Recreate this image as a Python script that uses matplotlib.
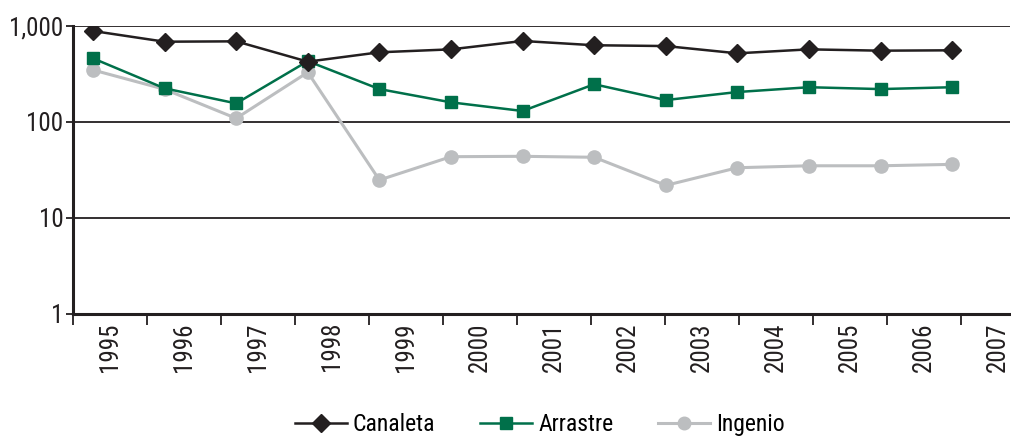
import matplotlib
matplotlib.use("Agg")
import matplotlib.pyplot as plt
from matplotlib import font_manager
from matplotlib.ticker import FixedLocator, FuncFormatter, NullLocator

years = ['1995', '1996', '1997', '1998', '1999', '2000', '2001',
         '2002', '2003', '2004', '2005', '2006', '2007']
canaleta = [887, 686, 692, 425, 532, 571, 698, 630, 618, 519, 571, 553, 558]
arrastre = [460, 224, 156, 430, 220, 160, 130, 247, 169, 205, 230, 220, 230]
ingenio = [348, 219, 109, 329, 24.8, 43.4, 43.8, 42.8, 21.8, 33.3, 34.9, 34.9, 36.1]

# choose a condensed font if one is installed
entries = font_manager.fontManager.ttflist
names = {f.name for f in entries}
cond = [f for f in entries if f.stretch in ('condensed', 'semi-condensed', 'extra-condensed')
        or (isinstance(f.stretch, int) and f.stretch < 500) or 'Narrow' in f.name
        or 'Condensed' in f.name]
FAMILY = None
STRETCH = 'normal'
FS = 18
for cand in ['Liberation Sans Narrow', 'Roboto Condensed', 'Open Sans Condensed',
             'Noto Sans Condensed', 'DejaVu Sans Condensed', 'Arial Narrow']:
    if cand in names:
        FAMILY = cand
        break
if FAMILY is None and cond:
    c = cond[0]
    FAMILY = c.name
    STRETCH = 'condensed'
if FAMILY is None:
    FAMILY = 'Roboto'
    FS = 15.5
plt.rcParams['font.family'] = [FAMILY, 'DejaVu Sans']
plt.rcParams['font.stretch'] = STRETCH

BLACK = '#231f20'
GREEN = '#00704a'
GRAY = '#bcbec0'

fig = plt.figure(figsize=(10.11, 4.37), dpi=100)
ax = fig.add_axes([0.0722, 0.282, 0.927, 0.6585])

x = list(range(len(years)))
ax.plot(x, ingenio, color=GRAY, lw=2.2, marker='o', ms=9.5, label='Ingenio', zorder=3)
ax.plot(x, arrastre, color=GREEN, lw=1.8, marker='s', ms=9, label='Arrastre', zorder=4)
ax.plot(x, canaleta, color=BLACK, lw=1.8, marker='D', ms=9.5, label='Canaleta', zorder=5)

ax.set_yscale('log')
ax.set_ylim(1, 1000)
ax.set_xlim(-0.279, 12.81)
ax.yaxis.set_major_locator(FixedLocator([1, 10, 100, 1000]))
ax.yaxis.set_minor_locator(NullLocator())
ax.yaxis.set_major_formatter(FuncFormatter(lambda v, p: f"{int(round(v)):,}"))
ax.yaxis.grid(True, color=BLACK, lw=1.3)
ax.set_axisbelow(True)
ax.tick_params(axis='y', length=5, width=1.3, color=BLACK, labelsize=FS, pad=2, labelcolor=BLACK)
ax.set_xticks([])
for s in ['top', 'right']:
    ax.spines[s].set_visible(False)
for s in ['left', 'bottom']:
    ax.spines[s].set_linewidth(2.2)
    ax.spines[s].set_color(BLACK)

# category axis for labels
ax2 = ax.twiny()
ax2.set_xlim(-0.5, 12.16)
ax2.xaxis.set_ticks_position('bottom')
ax2.xaxis.set_label_position('bottom')
ax2.set_xticks(range(len(years)))
ax2.set_xticklabels(years, rotation=90, fontsize=FS, color=BLACK)
ax2.set_xticks([k - 0.5 for k in range(len(years))], minor=True)
ax2.tick_params(axis='x', which='major', length=0, pad=6)
ax2.tick_params(axis='x', which='minor', length=8, width=1.3, color=BLACK)
for s in ax2.spines.values():
    s.set_visible(False)

h, l = ax.get_legend_handles_labels()
order = [2, 1, 0]
fig.legend([h[i] for i in order], [l[i] for i in order], loc='center',
           bbox_to_anchor=(0.534, 0.028), ncol=3, frameon=False, fontsize=FS - 1,
           handlelength=2.2, columnspacing=1.9, handletextpad=0.25,
           markerscale=0.95)

fig.savefig('out.png', dpi=100)
